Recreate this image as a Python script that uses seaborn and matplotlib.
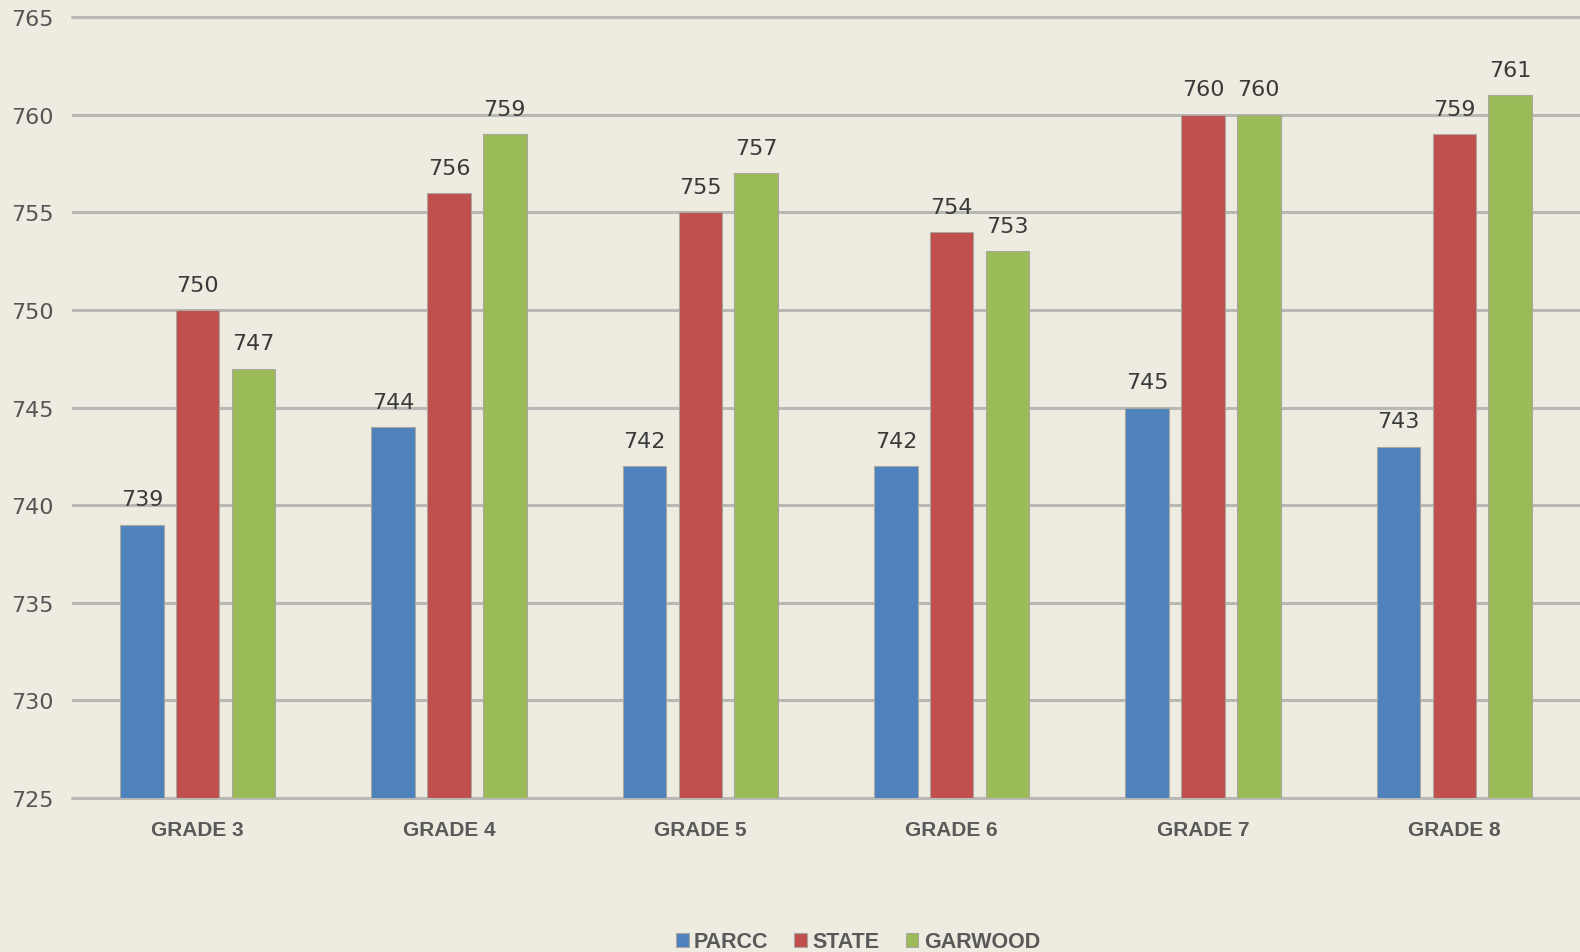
import pandas as pd
import seaborn as sns
import matplotlib.pyplot as plt

grades = ['GRADE 3', 'GRADE 4', 'GRADE 5', 'GRADE 6', 'GRADE 7', 'GRADE 8']
parcc = [739, 744, 742, 742, 745, 743]
state = [750, 756, 755, 754, 760, 759]
garwood = [747, 759, 757, 753, 760, 761]

df = pd.DataFrame({'grade': grades * 3,
                   'score': parcc + state + garwood,
                   'group': ['PARCC'] * 6 + ['STATE'] * 6 + ['GARWOOD'] * 6})

bg = '#EEEBE0'
sns.set_style('white')
plt.rcParams['font.family'] = ['Liberation Sans', 'DejaVu Sans']

fig = plt.figure(figsize=(15.8, 9.53), dpi=100, facecolor=bg)
ax = fig.add_axes([0.0456, 0.1616, 0.9544, 0.8194])
ax.set_facecolor(bg)

palette = {'PARCC': '#4F81BD', 'STATE': '#C0504D', 'GARWOOD': '#9BBB59'}
sns.barplot(data=df, x='grade', y='score', hue='group', palette=palette,
            width=0.666, gap=0.22, ax=ax, edgecolor='#A8A8A0', linewidth=0.8,
            saturation=1, zorder=3)

ax.set_ylim(725, 765)
ax.set_yticks(range(725, 766, 5))
ax.set_xlim(-0.5, 5.5)
ax.grid(axis='y', color='#B8B8B4', linewidth=2.2, zorder=0)
for yv in (725, 765):
    ax.axhline(yv, color='#B8B8B4', linewidth=2.2, zorder=2, clip_on=False)
for s in ax.spines.values():
    s.set_visible(False)
ax.tick_params(axis='both', length=0)
ax.tick_params(axis='y', pad=13, labelsize=16, labelcolor='#555555')
ax.tick_params(axis='x', pad=16, labelsize=15, labelcolor='#595959')
for t in ax.get_yticklabels():
    t.set_fontfamily('DejaVu Sans')
for t in ax.get_xticklabels():
    t.set_fontweight('bold')
ax.set_xlabel('')
ax.set_ylabel('')

for c in ax.containers:
    ax.bar_label(c, padding=11, fontsize=16, color='#3A3A3A', fontfamily='DejaVu Sans')

ax.legend(loc='center', bbox_to_anchor=(0.543, 0.0105), bbox_transform=fig.transFigure,
          ncol=3, frameon=False, prop={'size': 15.5, 'weight': 'bold'},
          handlelength=0.6, handleheight=0.6, handletextpad=0.25,
          columnspacing=1.2, labelcolor='#595959', borderpad=0)

fig.savefig('out.png', dpi=100, facecolor=bg)
